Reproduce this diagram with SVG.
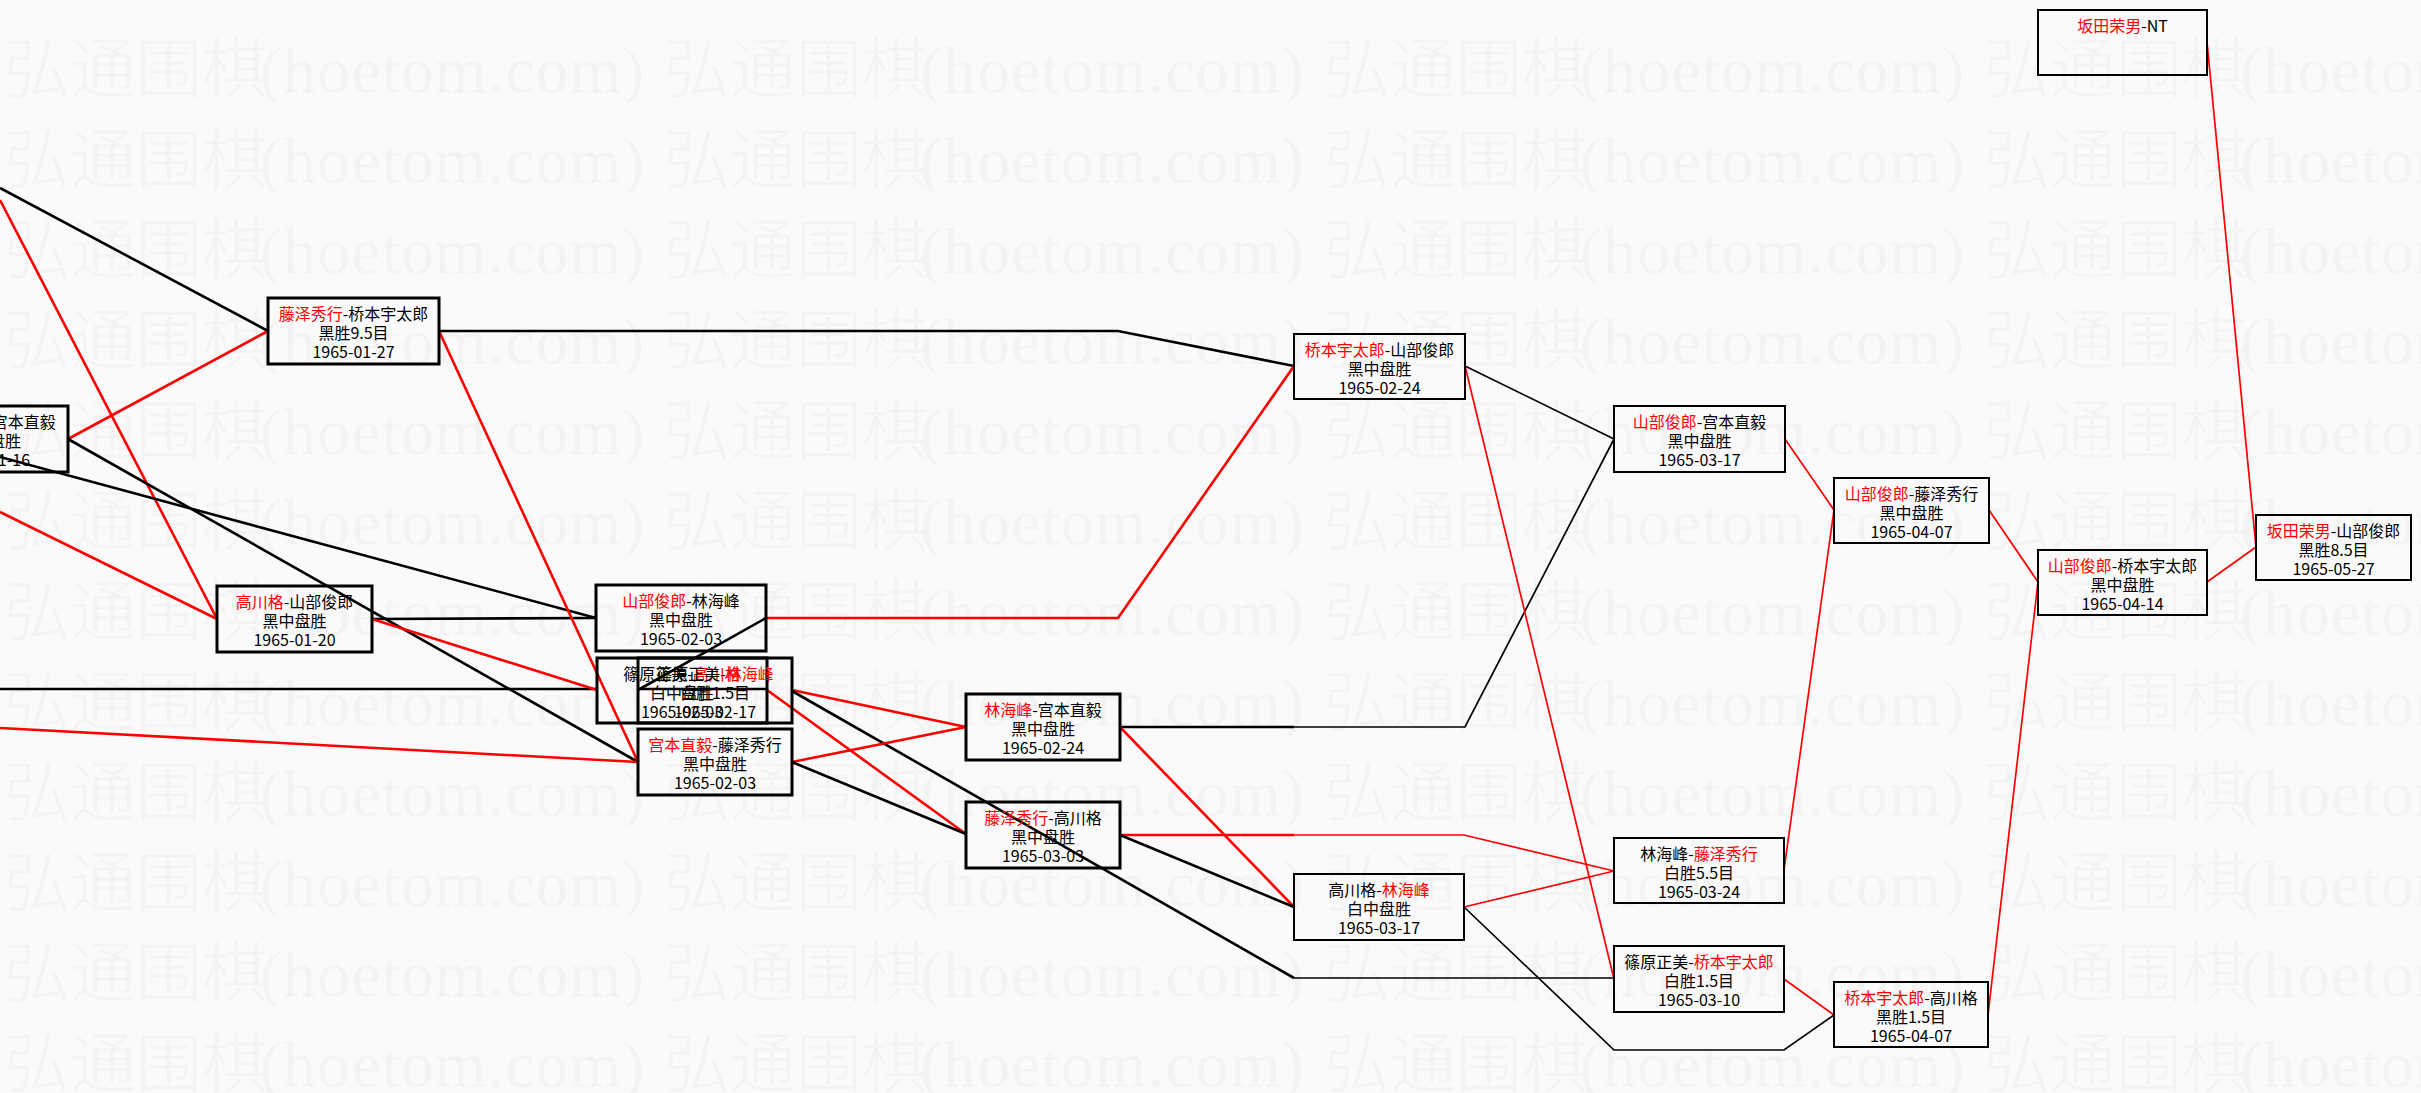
<svg xmlns="http://www.w3.org/2000/svg" width="2421" height="1093" viewBox="0 0 2421 1093">
<style>
.bx{fill:none;stroke:#000;stroke-width:3}
.bs{fill:none;stroke:#000;stroke-width:2}
.t{font-family:"Noto Sans CJK SC","Noto Sans CJK JP",sans-serif;font-size:16px;text-anchor:middle;fill:#000}
.r{fill:#f00}
.k{fill:none;stroke:#000;stroke-width:2.6}
.rd{fill:none;stroke:#f00;stroke-width:2.6}
.kt{fill:none;stroke:#000;stroke-width:1.7}
.rt{fill:none;stroke:#f00;stroke-width:1.7}
.wm{fill:#f3f3f3}
</style>
<defs>
<pattern id="wmp" patternUnits="userSpaceOnUse" x="0" y="12" width="660" height="90.4">
<text class="wm" x="4" y="80" font-family="'Noto Sans CJK SC',sans-serif" font-weight="300" font-size="66">弘通围棋</text>
<text class="wm" x="260" y="80" font-family="'Liberation Serif',serif" font-size="66" textLength="384">(hoetom.com)</text>
</pattern>
</defs>
<rect width="2421" height="1093" fill="#fafafa"/>
<rect x="0" y="12" width="2421" height="1081" fill="url(#wmp)"/>

<g id="connectors">
<line class="k" x1="0" y1="188" x2="268" y2="331"/>
<line class="rd" x1="0" y1="200" x2="217" y2="619"/>
<line class="rd" x1="68" y1="439" x2="268" y2="331"/>
<line class="k" x1="68" y1="439" x2="638" y2="762"/>
<line class="k" x1="0" y1="457" x2="596" y2="618"/>
<line class="rd" x1="0" y1="512" x2="217" y2="619"/>
<line class="k" x1="0" y1="689" x2="597" y2="689"/>
<line class="rd" x1="0" y1="728" x2="638" y2="762"/>
<line class="k" x1="372" y1="619" x2="596" y2="618"/>
<line class="rd" x1="372" y1="619" x2="597" y2="690"/>
<line class="rd" x1="439" y1="331" x2="638" y2="762"/>
<polyline class="k" points="439,331 1118,331 1294,366"/>
<line class="k" x1="766" y1="618" x2="638" y2="690"/>
<polyline class="rd" points="766,618 1118,618 1294,366"/>
<line class="k" x1="767" y1="689" x2="638" y2="689"/>
<line class="rd" x1="767" y1="690" x2="966" y2="834"/>
<line class="rd" x1="792" y1="690" x2="966" y2="727"/>
<line class="k" x1="792" y1="691" x2="1294" y2="978"/>
<line class="kt" x1="1294" y1="978" x2="1614" y2="978"/>
<line class="rd" x1="792" y1="762" x2="966" y2="727"/>
<line class="k" x1="792" y1="762" x2="966" y2="834"/>
<line class="k" x1="1120" y1="727" x2="1294" y2="727"/>
<polyline class="kt" points="1294,727 1465,727 1614,439"/>
<line class="rd" x1="1120" y1="727" x2="1294" y2="907"/>
<line class="rd" x1="1120" y1="835" x2="1294" y2="835"/>
<polyline class="rt" points="1294,835 1464,835 1614,871"/>
<line class="k" x1="1120" y1="835" x2="1294" y2="907"/>
<line class="kt" x1="1465" y1="366" x2="1614" y2="439"/>
<line class="rt" x1="1465" y1="366" x2="1614" y2="979"/>
<line class="rt" x1="1464" y1="907" x2="1614" y2="871"/>
<polyline class="kt" points="1464,907 1614,1050 1784,1050 1834,1015"/>
<line class="rt" x1="1785" y1="439" x2="1834" y2="510"/>
<line class="rt" x1="1784" y1="870" x2="1834" y2="510"/>
<line class="rt" x1="1784" y1="979" x2="1834" y2="1015"/>
<line class="rt" x1="1989" y1="510" x2="2038" y2="582"/>
<line class="rt" x1="1988" y1="1015" x2="2038" y2="582"/>
<line class="rt" x1="2207" y1="582" x2="2256" y2="547"/>
<line class="rt" x1="2207" y1="42" x2="2256" y2="547"/>
</g>

<g id="nB"><rect class="bx" x="-90" y="406" width="158" height="66"/>
<text class="t" x="-11" y="428"><tspan class="r">藤泽秀行</tspan>-宫本直毅</text>
<text class="t" x="-11" y="447">黑中盘胜</text>
<text class="t" x="-11" y="465.5">1965-01-16</text></g>

<g id="nA"><rect class="bx" x="268" y="298" width="171" height="66"/>
<text class="t" x="353.5" y="320"><tspan class="r">藤泽秀行</tspan>-桥本宇太郎</text>
<text class="t" x="353.5" y="339">黑胜9.5目</text>
<text class="t" x="353.5" y="357.5">1965-01-27</text></g>

<g id="nC"><rect class="bx" x="217" y="586" width="155" height="66"/>
<text class="t" x="294.5" y="608"><tspan class="r">高川格</tspan>-山部俊郎</text>
<text class="t" x="294.5" y="627">黑中盘胜</text>
<text class="t" x="294.5" y="645.5">1965-01-20</text></g>

<g id="nD"><rect class="bx" x="596" y="585" width="170" height="66"/>
<text class="t" x="681" y="607"><tspan class="r">山部俊郎</tspan>-林海峰</text>
<text class="t" x="681" y="626">黑中盘胜</text>
<text class="t" x="681" y="644.5">1965-02-03</text></g>

<g id="nE1"><rect class="bx" x="597" y="658" width="170" height="65"/>
<text class="t" x="682" y="680">篠原正美-<tspan class="r">高川格</tspan></text>
<text class="t" x="682" y="699">白中盘胜</text>
<text class="t" x="682" y="717.5">1965-02-03</text></g>

<g id="nE2"><rect class="bx" x="638" y="658" width="154" height="65"/>
<text class="t" x="715" y="680">篠原正美-<tspan class="r">林海峰</tspan></text>
<text class="t" x="715" y="699">白胜1.5目</text>
<text class="t" x="715" y="717.5">1965-02-17</text></g>

<g id="nF"><rect class="bx" x="638" y="729" width="154" height="66"/>
<text class="t" x="715" y="751"><tspan class="r">宫本直毅</tspan>-藤泽秀行</text>
<text class="t" x="715" y="770">黑中盘胜</text>
<text class="t" x="715" y="788.5">1965-02-03</text></g>

<g id="nG"><rect class="bx" x="966" y="694" width="154" height="66"/>
<text class="t" x="1043" y="716"><tspan class="r">林海峰</tspan>-宫本直毅</text>
<text class="t" x="1043" y="735">黑中盘胜</text>
<text class="t" x="1043" y="753.5">1965-02-24</text></g>

<g id="nH"><rect class="bx" x="966" y="802" width="154" height="66"/>
<text class="t" x="1043" y="824"><tspan class="r">藤泽秀行</tspan>-高川格</text>
<text class="t" x="1043" y="843">黑中盘胜</text>
<text class="t" x="1043" y="861.5">1965-03-03</text></g>

<g id="nI"><rect class="bs" x="1294" y="334" width="171" height="65"/>
<text class="t" x="1379.5" y="356"><tspan class="r">桥本宇太郎</tspan>-山部俊郎</text>
<text class="t" x="1379.5" y="375">黑中盘胜</text>
<text class="t" x="1379.5" y="393.5">1965-02-24</text></g>

<g id="nJ"><rect class="bs" x="1294" y="874" width="170" height="66"/>
<text class="t" x="1379" y="896">高川格-<tspan class="r">林海峰</tspan></text>
<text class="t" x="1379" y="915">白中盘胜</text>
<text class="t" x="1379" y="933.5">1965-03-17</text></g>

<g id="nK"><rect class="bs" x="1614" y="406" width="171" height="66"/>
<text class="t" x="1699.5" y="428"><tspan class="r">山部俊郎</tspan>-宫本直毅</text>
<text class="t" x="1699.5" y="447">黑中盘胜</text>
<text class="t" x="1699.5" y="465.5">1965-03-17</text></g>

<g id="nL"><rect class="bs" x="1614" y="838" width="170" height="65"/>
<text class="t" x="1699" y="860">林海峰-<tspan class="r">藤泽秀行</tspan></text>
<text class="t" x="1699" y="879">白胜5.5目</text>
<text class="t" x="1699" y="897.5">1965-03-24</text></g>

<g id="nM"><rect class="bs" x="1614" y="946" width="170" height="66"/>
<text class="t" x="1699" y="968">篠原正美-<tspan class="r">桥本宇太郎</tspan></text>
<text class="t" x="1699" y="987">白胜1.5目</text>
<text class="t" x="1699" y="1005.5">1965-03-10</text></g>

<g id="nN"><rect class="bs" x="1834" y="478" width="155" height="65"/>
<text class="t" x="1911.5" y="500"><tspan class="r">山部俊郎</tspan>-藤泽秀行</text>
<text class="t" x="1911.5" y="519">黑中盘胜</text>
<text class="t" x="1911.5" y="537.5">1965-04-07</text></g>

<g id="nO"><rect class="bs" x="1834" y="982" width="154" height="65"/>
<text class="t" x="1911" y="1004"><tspan class="r">桥本宇太郎</tspan>-高川格</text>
<text class="t" x="1911" y="1023">黑胜1.5目</text>
<text class="t" x="1911" y="1041.5">1965-04-07</text></g>

<g id="nP"><rect class="bs" x="2038" y="550" width="169" height="65"/>
<text class="t" x="2122.5" y="572"><tspan class="r">山部俊郎</tspan>-桥本宇太郎</text>
<text class="t" x="2122.5" y="591">黑中盘胜</text>
<text class="t" x="2122.5" y="609.5">1965-04-14</text></g>

<g id="nQ"><rect class="bs" x="2038" y="10" width="169" height="65"/>
<text class="t" x="2122.5" y="32"><tspan class="r">坂田荣男</tspan>-NT</text></g>

<g id="nR"><rect class="bs" x="2256" y="515" width="155" height="65"/>
<text class="t" x="2333.5" y="537"><tspan class="r">坂田荣男</tspan>-山部俊郎</text>
<text class="t" x="2333.5" y="556">黑胜8.5目</text>
<text class="t" x="2333.5" y="574.5">1965-05-27</text></g>
</svg>
